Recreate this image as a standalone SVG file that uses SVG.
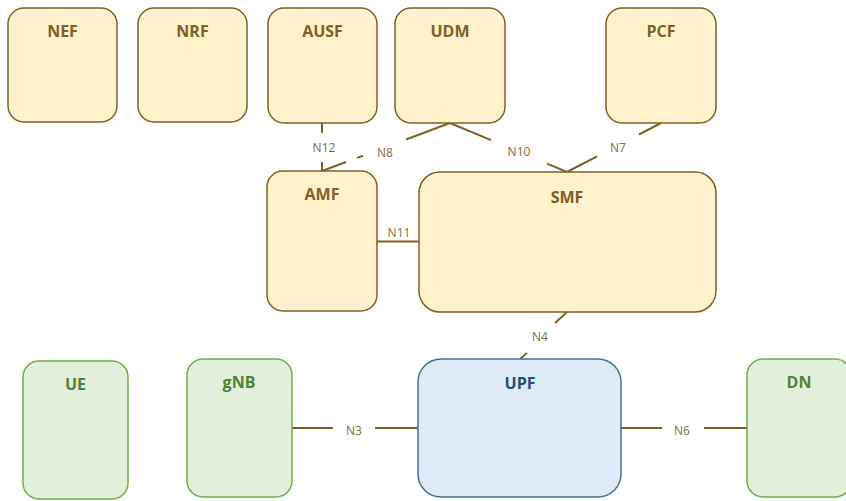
<svg xmlns="http://www.w3.org/2000/svg" width="846" height="501" viewBox="0 0 846 501">
<style>
.y rect{fill:#FFF2CC;stroke:#7F6026;stroke-width:1.5}
.g rect{fill:#E2EFDA;stroke:#70AD47;stroke-width:1.5}
.b rect{fill:#DEEBF7;stroke:#41719C;stroke-width:1.5}
.t{font-family:"Open Sans","Liberation Sans",sans-serif;font-weight:bold;font-size:16px;text-anchor:middle}
.y .t{fill:#7F6026}
.g .t{fill:#538135}
.b .t{fill:#1F4E79}
#connectors line{stroke:#7F6026;stroke-width:2;fill:none}
.l{font-family:"Open Sans","Liberation Sans",sans-serif;font-size:12px;fill:#7F6A40;text-anchor:middle}
</style>
<rect width="846" height="501" fill="#fff"/>
<g id="connectors">
<line x1="322" y1="123" x2="322" y2="133"/>
<line x1="322" y1="162" x2="322" y2="171"/>
<line x1="450" y1="123" x2="406" y2="139.5"/>
<line x1="363" y1="155.6" x2="357" y2="157.9"/>
<line x1="346" y1="162" x2="322" y2="171"/>
<line x1="450" y1="123" x2="491" y2="140.2"/>
<line x1="547" y1="163.6" x2="567" y2="172"/>
<line x1="661" y1="123" x2="639" y2="134.5"/>
<line x1="597" y1="156.4" x2="567" y2="172"/>
<line x1="377" y1="241.5" x2="419" y2="241.5"/>
<line x1="567" y1="312" x2="555" y2="323"/>
<line x1="527" y1="353" x2="520" y2="359"/>
<line x1="292" y1="428" x2="333" y2="428"/>
<line x1="375" y1="428" x2="418" y2="428"/>
<line x1="621" y1="428" x2="662" y2="428"/>
<line x1="704" y1="428" x2="747" y2="428"/>
<text class="l" x="324" y="152">N12</text>
<text class="l" x="385" y="157">N8</text>
<text class="l" x="519" y="156">N10</text>
<text class="l" x="618" y="152">N7</text>
<text class="l" x="399" y="237">N11</text>
<text class="l" x="540" y="341">N4</text>
<text class="l" x="354" y="435">N3</text>
<text class="l" x="682" y="435">N6</text>
</g>
<g id="NEF" class="y"><rect x="8" y="8" width="109" height="114" rx="16"/><text class="t" x="62.5" y="37">NEF</text></g>
<g id="NRF" class="y"><rect x="138" y="8" width="109" height="114" rx="16"/><text class="t" x="192.5" y="37">NRF</text></g>
<g id="AUSF" class="y"><rect x="268" y="8" width="109" height="115" rx="16"/><text class="t" x="322.5" y="37">AUSF</text></g>
<g id="UDM" class="y"><rect x="395" y="8" width="110" height="115" rx="16"/><text class="t" x="450" y="37">UDM</text></g>
<g id="PCF" class="y"><rect x="606" y="8" width="110" height="115" rx="16"/><text class="t" x="661" y="37">PCF</text></g>
<g id="AMF" class="y"><rect x="267" y="171" width="110" height="140" rx="16"/><text class="t" x="322" y="200">AMF</text></g>
<g id="SMF" class="y"><rect x="419" y="172" width="297" height="140" rx="21"/><text class="t" x="567" y="203">SMF</text></g>
<g id="UE" class="g"><rect x="23" y="361" width="105" height="138" rx="16"/><text class="t" x="75.5" y="390">UE</text></g>
<g id="gNB" class="g"><rect x="187" y="359" width="105" height="138" rx="16"/><text class="t" x="239" y="388">gNB</text></g>
<g id="UPF" class="b"><rect x="418" y="359" width="203" height="138" rx="23"/><text class="t" x="520" y="389">UPF</text></g>
<g id="DN" class="g"><rect x="747" y="359" width="104" height="138" rx="16"/><text class="t" x="799" y="388">DN</text></g>
</svg>
